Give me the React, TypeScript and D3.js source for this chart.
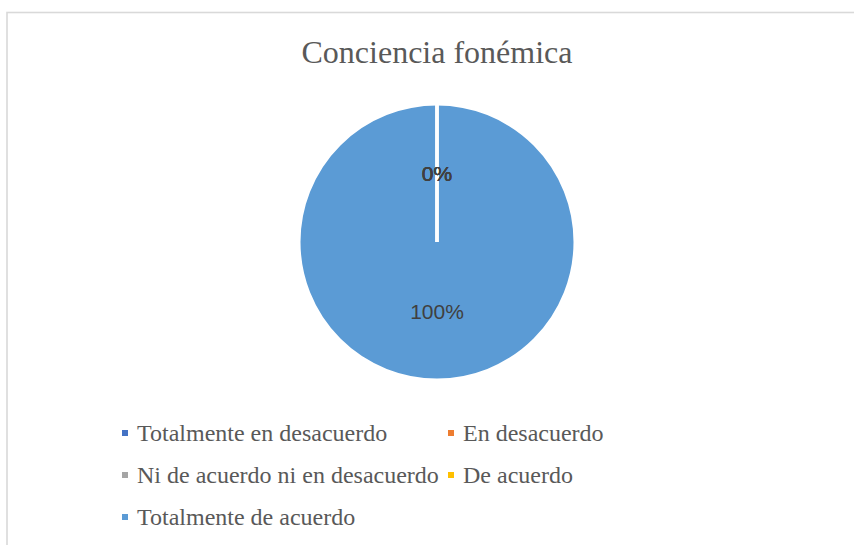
import { useEffect, useRef } from 'react'
import * as d3 from 'd3'

const W = 854
const H = 545

const CATEGORIES = [
  'Totalmente en desacuerdo',
  'En desacuerdo',
  'Ni de acuerdo ni en desacuerdo',
  'De acuerdo',
  'Totalmente de acuerdo',
]
const VALUES = [0, 0, 0, 0, 100]
const COLORS = ['#4472C4', '#ED7D31', '#A5A5A5', '#FFC000', '#5B9BD5']
const TITLE = 'Conciencia fonémica'

type Row = { name: string; value: number }

export default function App() {
  const svgRef = useRef<SVGSVGElement | null>(null)

  useEffect(() => {
    const svg = d3.select(svgRef.current)
    svg.selectAll('*').remove()

    const data: Row[] = CATEGORIES.map((name, i) => ({ name, value: VALUES[i] }))
    const total = d3.sum(data, d => d.value)

    // chart frame (right/bottom edges fall outside the picture)
    svg.append('rect')
      .attr('x', 7).attr('y', 12.5)
      .attr('width', W).attr('height', H)
      .attr('fill', '#fff').attr('stroke', '#d9d9d9').attr('stroke-width', 1.6)

    svg.append('text')
      .attr('x', 437).attr('y', 63)
      .attr('text-anchor', 'middle')
      .attr('font-family', '"Liberation Serif", "Times New Roman", serif')
      .attr('font-size', 32)
      .attr('fill', '#595959')
      .text(TITLE)

    const cx = 437, cy = 242, r = 138
    const color = d3.scaleOrdinal<string, string>().domain(CATEGORIES).range(COLORS)
    const pie = d3.pie<Row>().value(d => d.value).sort(null)
    const arcs = pie(data)
    const arc = d3.arc<d3.PieArcDatum<Row>>().innerRadius(0).outerRadius(r)
    const labelArc = d3.arc<d3.PieArcDatum<Row>>().innerRadius(0).outerRadius(r)

    const g = svg.append('g').attr('transform', `translate(${cx},${cy})`)

    g.selectAll('path.fill')
      .data(arcs)
      .join('path')
      .attr('class', 'fill')
      .attr('d', arc)
      .attr('fill', d => color(d.data.name))

    // slice borders on top, so the empty slices show as a white radius
    g.selectAll('path.edge')
      .data(arcs)
      .join('path')
      .attr('class', 'edge')
      .attr('d', arc)
      .attr('fill', 'none')
      .attr('stroke', '#fff')
      .attr('stroke-width', 3)

    g.selectAll('text.lbl')
      .data(arcs)
      .join('text')
      .attr('class', 'lbl')
      .attr('transform', d => `translate(${labelArc.centroid(d)})`)
      .attr('text-anchor', 'middle')
      .attr('dy', '0.36em')
      .attr('font-family', '"Liberation Sans", Arial, sans-serif')
      .attr('font-size', 21)
      .attr('fill', '#404040')
      .text(d => `${Math.round((d.data.value / total) * 100)}%`)

    // legend, two columns
    const colX = [122, 448]
    const rowY = d3.scaleLinear().domain([0, 1]).range([433, 475])
    const items = svg.append('g').selectAll('g')
      .data(data)
      .join('g')
      .attr('transform', (_, i) => `translate(${colX[i % 2]},${rowY(Math.floor(i / 2))})`)

    items.append('rect')
      .attr('x', 0).attr('y', -3)
      .attr('width', 6).attr('height', 6)
      .attr('fill', d => color(d.name))

    items.append('text')
      .attr('x', 15).attr('y', 8)
      .attr('font-family', '"Liberation Serif", "Times New Roman", serif')
      .attr('font-size', 24)
      .attr('fill', '#595959')
      .text(d => d.name)
  }, [])

  return (
    <svg
      ref={svgRef}
      width={W}
      height={H}
      style={{ position: 'absolute', left: 0, top: 0, display: 'block' }}
    />
  )
}
